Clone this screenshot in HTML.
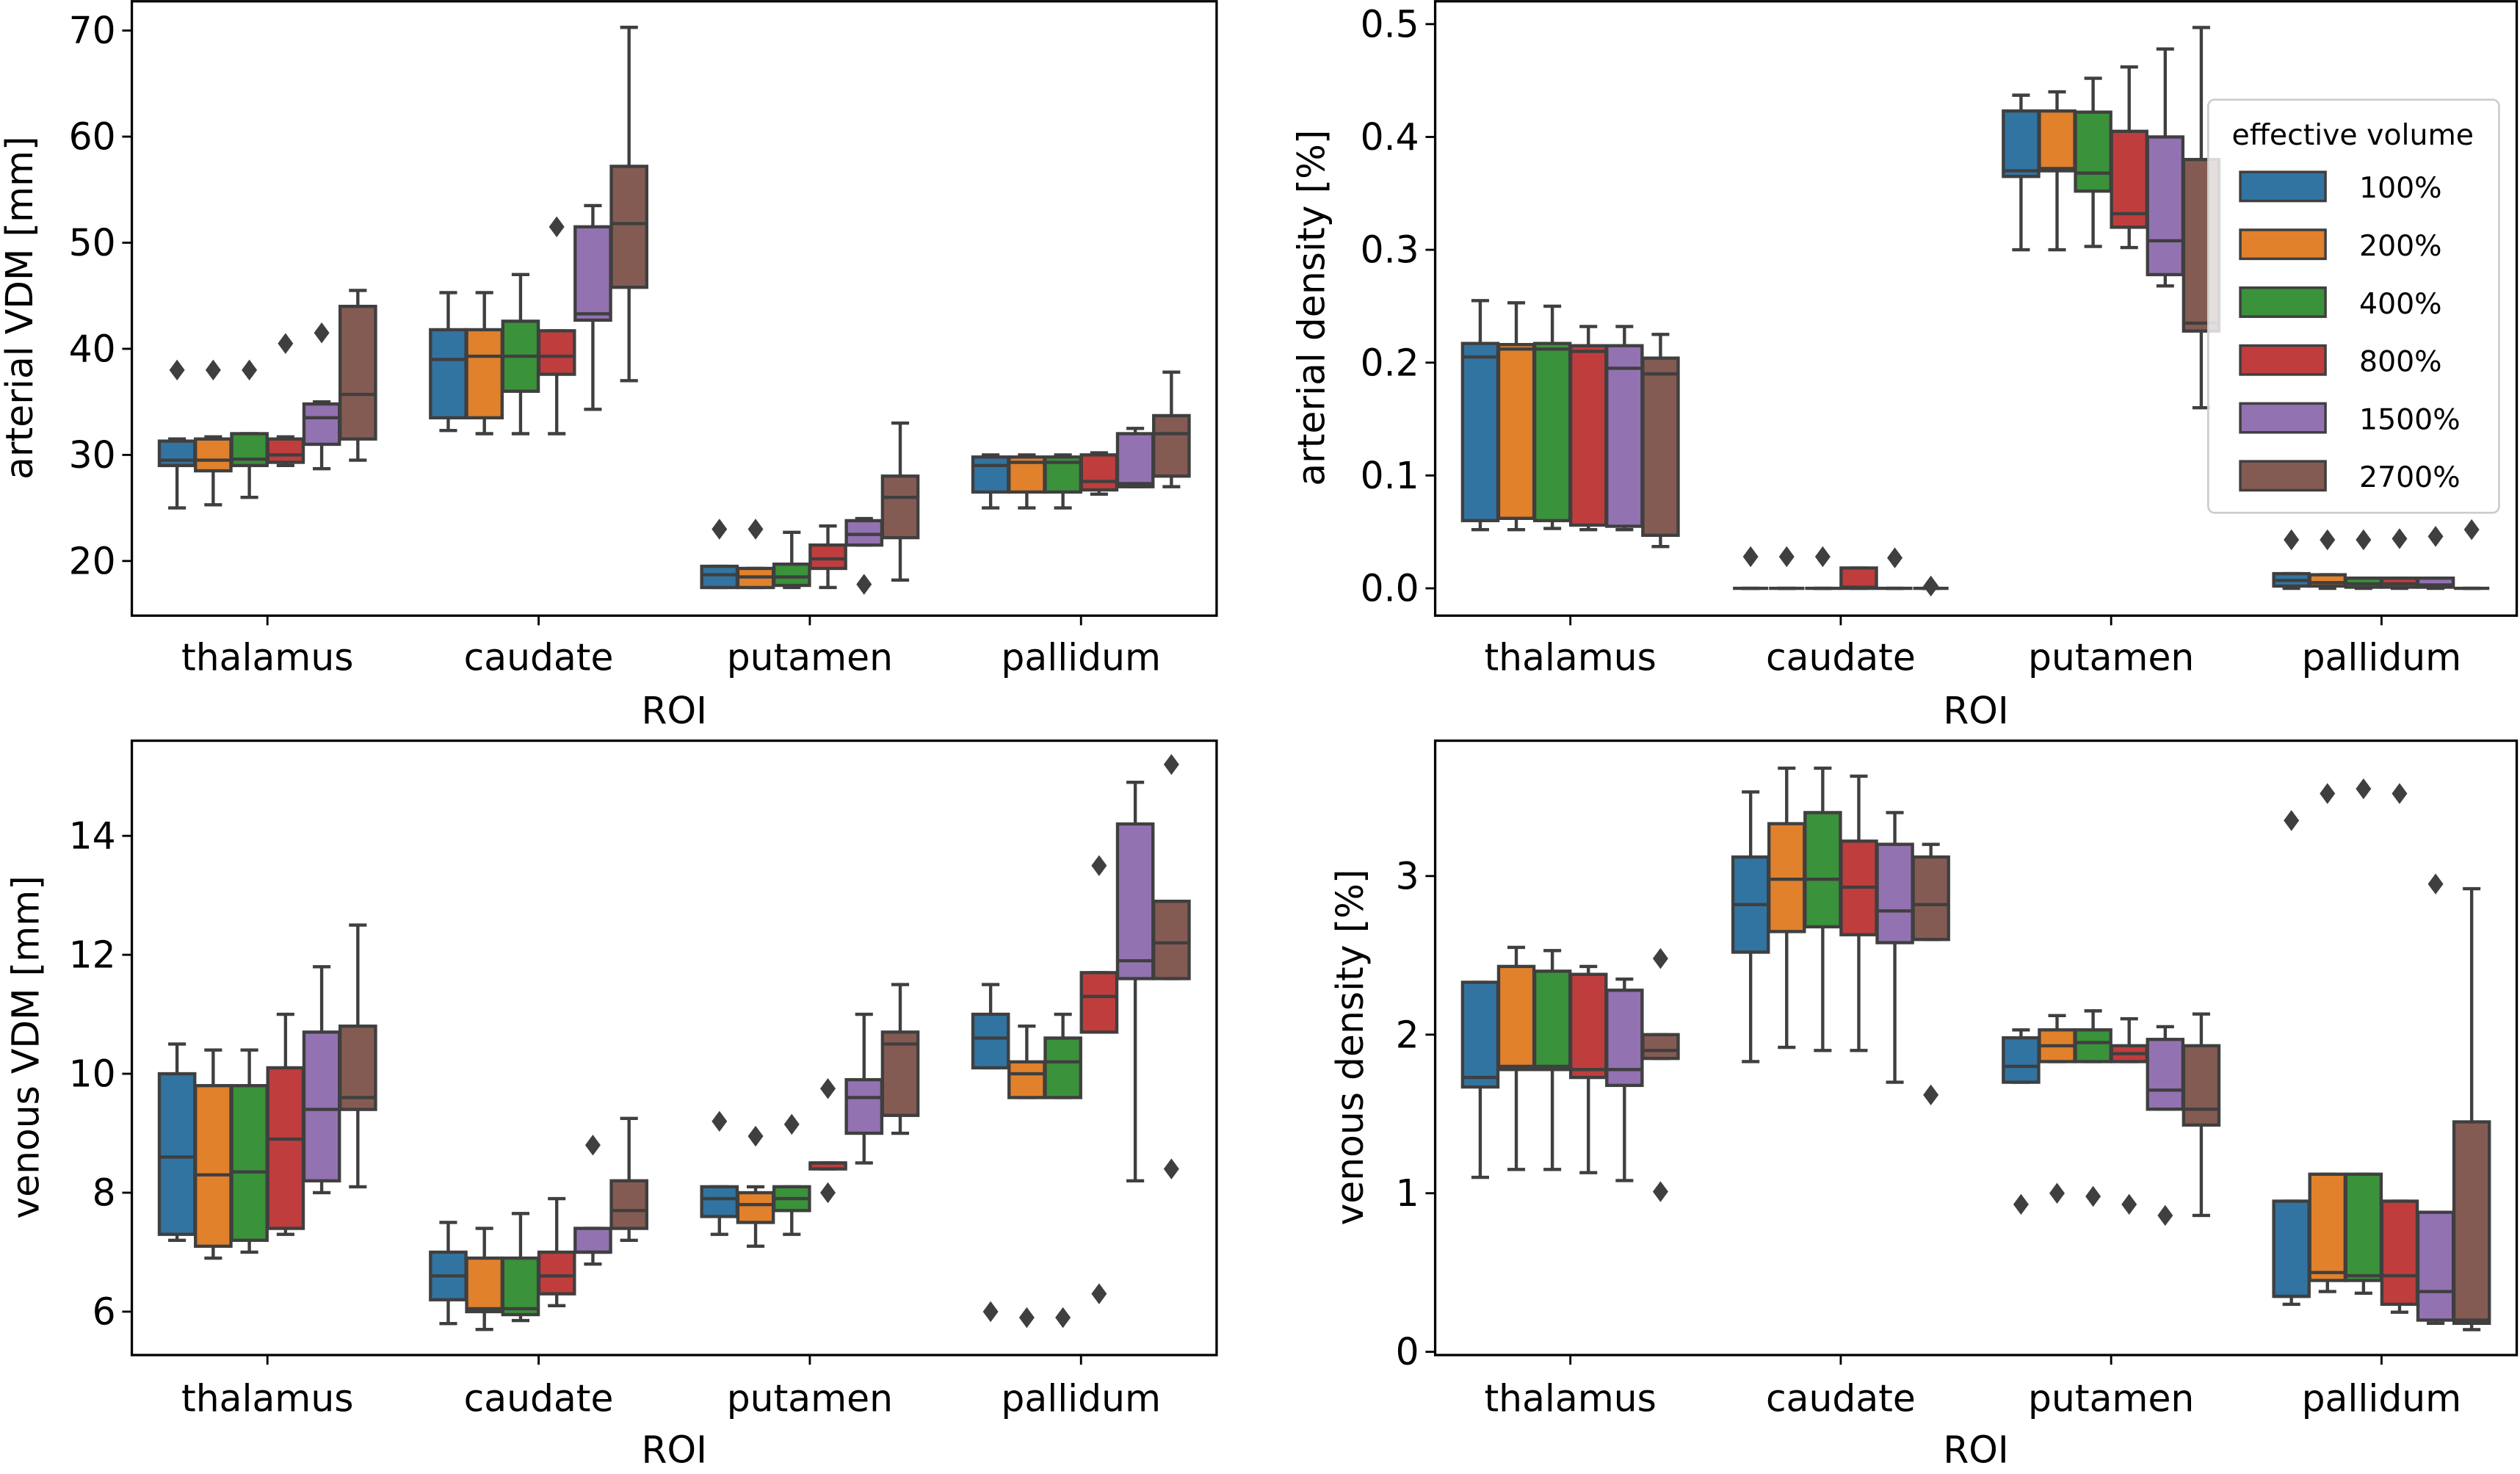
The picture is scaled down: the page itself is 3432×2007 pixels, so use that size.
<!DOCTYPE html>
<html><head><meta charset="utf-8"><style>
html,body{margin:0;padding:0;background:#fff;}
svg{display:block;font-family:"DejaVu Sans","Liberation Sans",sans-serif;}
</style></head><body>
<svg id="fig" width="3432" height="2007" viewBox="0 0 1568 917" xmlns="http://www.w3.org/2000/svg"></svg>
<script>
const categories = ["thalamus","caudate","putamen","pallidum"];
const hues = ["100%","200%","400%","800%","1500%","2700%"];
const colors = ["#3274a1","#e1812c","#3a923a","#c03d3e","#9372b2","#845b53"];
// each box: [whiskerLow, q1, median, q3, whiskerHigh, outliers]
const arterialVDM = [
 [[25,29,29.5,31.3,31.5,[38]],[25.3,28.5,29.5,31.5,31.7,[38]],[26,29,29.6,32,32,[38]],[29,29.3,30,31.5,31.7,[40.5]],[28.7,31,33.5,34.8,35,[41.5]],[29.5,31.5,35.7,44,45.5,[]]],
 [[32.3,33.5,39,41.8,45.3,[]],[32,33.5,39.3,41.8,45.3,[]],[32,36,39.3,42.6,47,[]],[32,37.6,39.3,41.7,41.7,[51.5]],[34.3,42.7,43.3,51.5,53.5,[]],[37,45.8,51.8,57.2,70.3,[]]],
 [[17.5,17.5,18.7,19.5,19.5,[23]],[17.5,17.5,18.5,19.3,19.3,[23]],[17.5,17.7,18.5,19.7,22.7,[]],[17.5,19.3,20.2,21.5,23.3,[]],[21.5,21.5,22.5,23.8,24,[17.8]],[18.2,22.2,26,28,33,[]]],
 [[25,26.5,29,29.8,30,[]],[25,26.5,29.3,29.8,30,[]],[25,26.5,29.3,29.8,30,[]],[26.3,26.7,27.5,30,30.2,[]],[27,27,27.3,32,32.5,[]],[27,28,32,33.7,37.8,[]]]
];
const arterialDensity = [
 [[0.052,0.06,0.205,0.217,0.255,[]],[0.052,0.062,0.212,0.216,0.253,[]],[0.053,0.06,0.212,0.217,0.25,[]],[0.052,0.056,0.21,0.215,0.232,[]],[0.052,0.055,0.195,0.215,0.232,[]],[0.037,0.047,0.19,0.204,0.225,[]]],
 [[0,0,0,0,0,[0.028]],[0,0,0,0,0,[0.028]],[0,0,0,0,0,[0.028]],[0,0,0.001,0.018,0.018,[]],[0,0,0,0,0,[0.027]],[0,0,0,0,0,[0.002]]],
 [[0.3,0.365,0.37,0.423,0.437,[]],[0.3,0.37,0.372,0.423,0.44,[]],[0.303,0.352,0.368,0.422,0.452,[]],[0.302,0.32,0.332,0.405,0.462,[]],[0.268,0.278,0.308,0.4,0.478,[]],[0.16,0.228,0.235,0.38,0.497,[]]],
 [[0,0.002,0.007,0.013,0.013,[0.043]],[0,0.002,0.005,0.012,0.012,[0.043]],[0,0.001,0.004,0.009,0.009,[0.043]],[0,0.001,0.004,0.009,0.009,[0.044]],[0,0.001,0.003,0.009,0.009,[0.046]],[0,0,0,0,0,[0.052]]]
];
const venousVDM = [
 [[7.2,7.3,8.6,10,10.5,[]],[6.9,7.1,8.3,9.8,10.4,[]],[7,7.2,8.35,9.8,10.4,[]],[7.3,7.4,8.9,10.1,11,[]],[8,8.2,9.4,10.7,11.8,[]],[8.1,9.4,9.6,10.8,12.5,[]]],
 [[5.8,6.2,6.6,7,7.5,[]],[5.7,6,6.05,6.9,7.4,[]],[5.85,5.95,6.05,6.9,7.65,[]],[6.1,6.3,6.6,7,7.9,[]],[6.8,7,7,7.4,7.4,[8.8]],[7.2,7.4,7.7,8.2,9.25,[]]],
 [[7.3,7.6,7.9,8.1,8.1,[9.2]],[7.1,7.5,7.8,8,8.1,[8.95]],[7.3,7.7,7.9,8.1,8.1,[9.15]],[8.4,8.4,8.5,8.5,8.5,[9.75,8]],[8.5,9,9.6,9.9,11,[]],[9,9.3,10.5,10.7,11.5,[]]],
 [[10.1,10.1,10.6,11,11.5,[6]],[9.6,9.6,10,10.2,10.8,[5.9]],[9.6,9.6,10.2,10.6,11,[5.9]],[10.7,10.7,11.3,11.7,11.7,[13.5,6.3]],[8.2,11.6,11.9,14.2,14.9,[]],[11.6,11.6,12.2,12.9,12.9,[15.2,8.4]]]
];
const venousDensity = [
 [[1.1,1.67,1.73,2.33,2.33,[]],[1.15,1.78,1.8,2.43,2.55,[]],[1.15,1.78,1.8,2.4,2.53,[]],[1.13,1.73,1.78,2.38,2.43,[]],[1.08,1.68,1.78,2.28,2.35,[]],[1.85,1.85,1.9,2.0,2.0,[2.48,1.01]]],
 [[1.83,2.52,2.82,3.12,3.53,[]],[1.92,2.65,2.98,3.33,3.68,[]],[1.9,2.68,2.98,3.4,3.68,[]],[1.9,2.63,2.93,3.22,3.63,[]],[1.7,2.58,2.78,3.2,3.4,[]],[2.6,2.6,2.82,3.12,3.2,[1.62]]],
 [[1.7,1.7,1.8,1.98,2.03,[0.93]],[1.83,1.83,1.93,2.03,2.12,[1.0]],[1.83,1.83,1.95,2.03,2.15,[0.98]],[1.83,1.83,1.88,1.93,2.1,[0.93]],[1.53,1.53,1.65,1.97,2.05,[0.86]],[0.86,1.43,1.53,1.93,2.13,[]]],
 [[0.3,0.35,0.35,0.95,0.95,[3.35]],[0.38,0.45,0.5,1.12,1.12,[3.52]],[0.37,0.45,0.48,1.12,1.12,[3.55]],[0.25,0.3,0.48,0.95,0.95,[3.52]],[0.18,0.2,0.38,0.88,0.88,[2.95]],[0.14,0.18,0.2,1.45,2.92,[]]]
];
const ticksAVDM = [20,30,40,50,60,70];
const ticksAD = [0.0,0.1,0.2,0.3,0.4,0.5];
const ticksVVDM = [6,8,10,12,14];
const ticksVD = [0,1,2,3];

const NS="http://www.w3.org/2000/svg";
const fig=document.getElementById('fig');
function mk(tag,attrs,parent){const e=document.createElementNS(NS,tag);for(const k in attrs)e.setAttribute(k,attrs[k]);(parent||fig).appendChild(e);return e;}

const panels=[
 {name:'arterial-vdm',data:arterialVDM,ticks:ticksAVDM,fmt:v=>String(v),left:82,right:757,top:0,bottom:383,v0:20,p0:349,v1:70,p1:19,ylabel:'arterial VDM [mm]',ylx:12,xtY:417,roiY:450},
 {name:'arterial-density',data:arterialDensity,ticks:ticksAD,fmt:v=>v.toFixed(1),left:893,right:1566,top:0,bottom:383,v0:0,p0:366,v1:0.5,p1:15,ylabel:'arterial density [%]',ylx:816,xtY:417,roiY:450},
 {name:'venous-vdm',data:venousVDM,ticks:ticksVVDM,fmt:v=>String(v),left:82,right:757,top:460,bottom:843,v0:6,p0:816,v1:14,p1:520,ylabel:'venous VDM [mm]',ylx:16,xtY:878,roiY:910},
 {name:'venous-density',data:venousDensity,ticks:ticksVD,fmt:v=>String(v),left:893,right:1566,top:460,bottom:843,v0:0,p0:841,v1:3,p1:545,ylabel:'venous density [%]',ylx:840,xtY:878,roiY:910}
];
const LC="#3f3f3f";
panels.forEach(P=>{
  const g=mk('g',{});
  
  
  const y=v=>P.p0+(v-P.v0)*(P.p1-P.p0)/(P.v1-P.v0);
  const catW=(P.right-P.left)/4;
  const x=i=>P.left+catW*(i+0.5);
  const hw=catW*0.8/6;
  P.data.forEach((cat,ci)=>{
    cat.forEach((b,hi)=>{
      const cx=x(ci)+(hi-2.5)*hw;
      const w=hw*0.98;
      const bg=mk('g',{},g);
      
      
      mk('line',{x1:cx,x2:cx,y1:y(b[0]),y2:y(b[1]),stroke:LC,'stroke-width':2},bg);
      mk('line',{x1:cx,x2:cx,y1:y(b[3]),y2:y(b[4]),stroke:LC,'stroke-width':2},bg);
      mk('line',{x1:cx-w/4,x2:cx+w/4,y1:y(b[0]),y2:y(b[0]),stroke:LC,'stroke-width':2},bg);
      mk('line',{x1:cx-w/4,x2:cx+w/4,y1:y(b[4]),y2:y(b[4]),stroke:LC,'stroke-width':2},bg);
      mk('rect',{x:cx-w/2,y:y(b[3]),width:w,height:Math.max(0,y(b[1])-y(b[3])),fill:colors[hi],stroke:LC,'stroke-width':2},bg);
      mk('line',{x1:cx-w/2,x2:cx+w/2,y1:y(b[2]),y2:y(b[2]),stroke:LC,'stroke-width':2},bg);
      b[5].forEach(o=>{
        const oy=y(o);
        const d=mk('path',{d:`M${cx},${oy-6.5} L${cx+4.8},${oy} L${cx},${oy+6.5} L${cx-4.8},${oy} Z`,fill:LC},bg);
        
        
      });
    });
    const t=mk('text',{x:x(ci),y:P.xtY,'text-anchor':'middle','font-size':23,fill:'#000'},g);
    t.textContent=categories[ci];
    
    
    mk('line',{x1:x(ci),x2:x(ci),y1:P.bottom,y2:P.bottom+6,stroke:'#000','stroke-width':1.3},g);
  });
  P.ticks.forEach(v=>{
    const ty=y(v);
    mk('line',{x1:P.left-6,x2:P.left,y1:ty,y2:ty,stroke:'#000','stroke-width':1.3},g);
    const t=mk('text',{x:P.left-10,y:ty+8,'text-anchor':'end','font-size':23,fill:'#000'},g);
    t.textContent=P.fmt(v);
    
    
  });
  const fr=mk('rect',{x:P.left,y:P.top+0.8,width:P.right-P.left,height:P.bottom-P.top-0.8,fill:'none',stroke:'#000','stroke-width':1.5},g);
  
  
  const xl=mk('text',{x:(P.left+P.right)/2,y:P.roiY,'text-anchor':'middle','font-size':23},g);
  xl.textContent='ROI';
  
  
  const cy=(P.top+P.bottom)/2;
  const yl=mk('text',{x:P.ylx,y:cy,'text-anchor':'middle','font-size':23,transform:`rotate(-90 ${P.ylx} ${cy})`,'dominant-baseline':'central'},g);
  yl.textContent=P.ylabel;
  
  
});
// legend
const lg=mk('g',{});


mk('rect',{x:1374,y:62,width:181,height:257,rx:4,fill:'#fff','fill-opacity':0.8,stroke:'#ccc','stroke-width':1.2},lg);
const lt=mk('text',{x:1464,y:90,'text-anchor':'middle','font-size':18},lg);
lt.textContent='effective volume';


hues.forEach((h,i)=>{
  const e=mk('g',{},lg);
  
  
  const yy=107+i*36;
  mk('rect',{x:1394,y:yy,width:53,height:18,fill:colors[i],stroke:LC,'stroke-width':1.6},e);
  const t=mk('text',{x:1468,y:yy+16,'font-size':18},e);
  t.textContent=h;
});
</script>
</body></html>
